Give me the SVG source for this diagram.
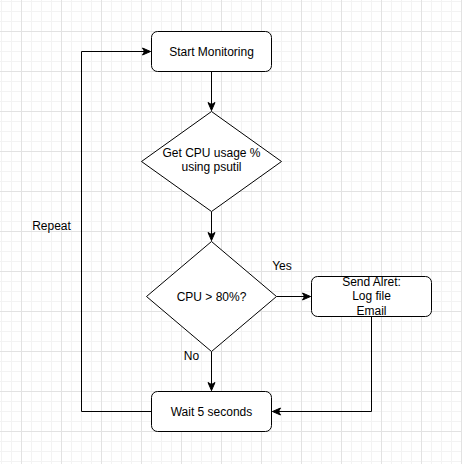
<svg xmlns="http://www.w3.org/2000/svg" width="462" height="464" viewBox="0 0 462 464">
<style>
.node{fill:#ffffff;stroke:#000000;stroke-width:1}
.lbl{font-family:"Liberation Sans",Arial,sans-serif;font-size:12px;fill:#000000;text-anchor:middle}
.edge{fill:none;stroke:#000000;stroke-width:1}
</style>
<defs>
<pattern id="grid" x="21" y="31" width="40" height="40" patternUnits="userSpaceOnUse">
<rect x="10" y="0" width="1" height="40" fill="#f3f3f3"/>
<rect x="20" y="0" width="1" height="40" fill="#f3f3f3"/>
<rect x="30" y="0" width="1" height="40" fill="#f3f3f3"/>
<rect x="0" y="10" width="40" height="1" fill="#f3f3f3"/>
<rect x="0" y="20" width="40" height="1" fill="#f3f3f3"/>
<rect x="0" y="30" width="40" height="1" fill="#f3f3f3"/>
<rect x="0" y="0" width="1" height="40" fill="#e2e2e2"/>
<rect x="0" y="0" width="40" height="1" fill="#e2e2e2"/>
</pattern>
<marker id="arr" viewBox="0 0 10 10" refX="9" refY="5" markerWidth="10" markerHeight="10" markerUnits="userSpaceOnUse" orient="auto">
<path d="M1,1.5 L9,5 L1,8.5 L3,5 Z" fill="#000000" stroke="#000000" stroke-width="1" stroke-linejoin="miter"/>
</marker>
</defs>
<rect x="0" y="0" width="462" height="464" fill="#ffffff"/>
<rect x="0" y="0" width="462" height="464" fill="url(#grid)"/>

<g id="connectors">
<path class="edge" d="M211.5,71.5 L211.5,110.5" marker-end="url(#arr)"/>
<path class="edge" d="M211.5,211.5 L211.5,240.5" marker-end="url(#arr)"/>
<path class="edge" d="M276.5,296.5 L310.5,296.5" marker-end="url(#arr)"/>
<path class="edge" d="M211.5,351.5 L211.5,390.5" marker-end="url(#arr)"/>
<path class="edge" d="M371.5,316.5 L371.5,411.5 L272.5,411.5" marker-end="url(#arr)"/>
<path class="edge" d="M151.5,411.5 L81.5,411.5 L81.5,51.5 L150.5,51.5" marker-end="url(#arr)"/>
<text class="lbl" x="282" y="270">Yes</text>
<text class="lbl" x="191.5" y="360">No</text>
<text class="lbl" x="51.5" y="230">Repeat</text>
</g>

<g id="start">
<rect class="node" x="151.5" y="31.5" width="120" height="40" rx="6" ry="6"/>
<text class="lbl" x="211.5" y="55.5">Start Monitoring</text>
</g>

<g id="getcpu">
<path class="node" d="M211.5,111.5 L281.5,161.5 L211.5,211.5 L141.5,161.5 Z"/>
<text class="lbl" x="211.5" y="157">Get CPU usage %</text>
<text class="lbl" x="211.5" y="171">using psutil</text>
</g>

<g id="check">
<path class="node" d="M211.5,241.5 L276.5,296.5 L211.5,351.5 L146.5,296.5 Z"/>
<text class="lbl" x="211.5" y="300.5">CPU &gt; 80%?</text>
</g>

<g id="alert">
<rect class="node" x="311.5" y="276.5" width="120" height="40" rx="6" ry="6"/>
<text class="lbl" x="371.5" y="286">Send Alret:</text>
<text class="lbl" x="371.5" y="300">Log file</text>
<text class="lbl" x="371.5" y="315">Email</text>
</g>

<g id="wait">
<rect class="node" x="151.5" y="391.5" width="120" height="40" rx="6" ry="6"/>
<text class="lbl" x="211.5" y="415.5">Wait 5 seconds</text>
</g>
</svg>
